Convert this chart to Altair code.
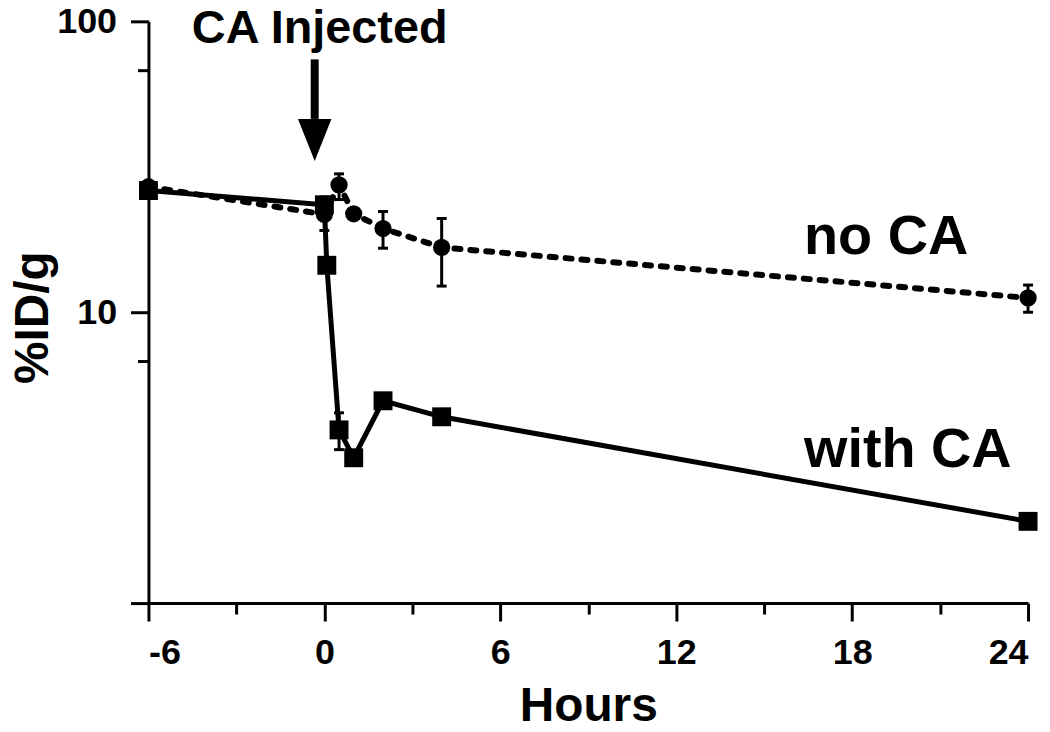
import altair as alt
import pandas as pd

# ---- data ----
# no CA (circles, dashed line)
noca_hours = [-6, 0, 0.5, 1, 2, 4, 24]
noca_vals = [27.0, 21.7, 27.4, 21.8, 19.4, 16.7, 11.2]
noca_lo = [None, 19.1, 24.4, None, 16.6, 12.3, 10.0]
noca_hi = [None, 24.9, 29.9, None, 22.2, 21.0, 12.4]

# with CA (squares, solid line)
withca_hours = [-6, 0, 0.083, 0.5, 1, 2, 4, 24]
withca_vals = [26.2, 23.4, 14.5, 3.94, 3.16, 4.96, 4.37, 1.91]
withca_lo = [None, None, None, 3.37, None, None, None, 1.82]
withca_hi = [None, None, None, 4.51, None, None, None, 2.0]

x_tick_values = [-6, -3, 0, 3, 6, 9, 12, 15, 18, 21, 24]
y_tick_values = [1, 6.8, 10, 68, 100]

# annotations
arrow_x = [-0.33]
arrow_top = [74.0]
arrow_base = [46.2]
arrow_head = [39.1]
label_text = ["no CA", "with CA"]
label_x = [16.36, 16.36]
label_y = [15.9, 2.94]
inj_text = ["CA Injected"]
inj_x = [-0.16]
inj_y = [84.0]

FONT = "Liberation Sans"

rows = []
for h, v, lo, hi in zip(noca_hours, noca_vals, noca_lo, noca_hi):
    rows.append({"series": "no CA", "hours": h, "val": v, "lo": lo, "hi": hi})
for h, v, lo, hi in zip(withca_hours, withca_vals, withca_lo, withca_hi):
    rows.append({"series": "with CA", "hours": h, "val": v, "lo": lo, "hi": hi})
df = pd.DataFrame(rows)
err_df = df.dropna(subset=["lo", "hi"])

xscale = alt.Scale(domain=[-6, 24], nice=False, zero=False)
yscale = alt.Scale(type="log", domain=[1, 100], nice=False)

xaxis = alt.Axis(
    values=x_tick_values,
    labelExpr="datum.value % 6 === 0 ? ('' + datum.value) : ''",
    tickSize={"condition": {"test": "datum.value % 6 === 0", "value": 18}, "value": 11},
    tickWidth=3, domainWidth=3, domainColor="black", tickColor="black",
    labelFont=FONT, labelFontSize=36, labelFontWeight="bold", labelColor="black",
    labelPadding=15, grid=False,
    title="Hours", titleFont=FONT, titleFontSize=48, titleFontWeight="bold",
    titleColor="black", titleY=118, titleBaseline="alphabetic",
)
yaxis = alt.Axis(
    values=y_tick_values,
    labelExpr="(datum.value == 10 || datum.value == 100) ? ('' + datum.value) : ''",
    tickSize={"condition": {"test": "datum.value == 1 || datum.value == 10 || datum.value == 100", "value": 18}, "value": 11},
    tickWidth=3, domainWidth=3, domainColor="black", tickColor="black",
    labelFont=FONT, labelFontSize=36, labelFontWeight="bold", labelColor="black",
    labelPadding=14, grid=False,
    title="%ID/g", titleFont=FONT, titleFontSize=48, titleFontWeight="bold",
    titleColor="black", titleX=-115, titleY=297, titleBaseline="middle",
    titleAlign="center", titleAngle=270,
)

base = alt.Chart(df)

line_noca = base.transform_filter(alt.datum.series == "no CA").mark_line(
    color="black", strokeWidth=6, strokeDash=[6, 10], strokeCap="round"
).encode(
    x=alt.X("hours:Q", scale=xscale, axis=xaxis),
    y=alt.Y("val:Q", scale=yscale, axis=yaxis),
    order="hours:Q",
)
line_withca = base.transform_filter(alt.datum.series == "with CA").mark_line(
    color="black", strokeWidth=5
).encode(
    x=alt.X("hours:Q", scale=xscale),
    y=alt.Y("val:Q", scale=yscale),
    order="hours:Q",
)

err_rule = alt.Chart(err_df).mark_rule(color="black", strokeWidth=3, opacity=1).encode(
    x=alt.X("hours:Q", scale=xscale),
    y=alt.Y("lo:Q", scale=yscale),
    y2="hi:Q",
)
err_cap_lo = alt.Chart(err_df).mark_tick(color="black", orient="horizontal", size=10, thickness=3, opacity=1).encode(
    x=alt.X("hours:Q", scale=xscale),
    y=alt.Y("lo:Q", scale=yscale),
)
err_cap_hi = alt.Chart(err_df).mark_tick(color="black", orient="horizontal", size=10, thickness=3, opacity=1).encode(
    x=alt.X("hours:Q", scale=xscale),
    y=alt.Y("hi:Q", scale=yscale),
)

pts_noca = base.transform_filter(alt.datum.series == "no CA").mark_point(
    shape="circle", filled=True, color="black", opacity=1, size=300
).encode(
    x=alt.X("hours:Q", scale=xscale),
    y=alt.Y("val:Q", scale=yscale),
)
pts_withca = base.transform_filter(alt.datum.series == "with CA").mark_point(
    shape="square", filled=True, color="black", opacity=1, size=361
).encode(
    x=alt.X("hours:Q", scale=xscale),
    y=alt.Y("val:Q", scale=yscale),
)

arrow_df = pd.DataFrame({"x": arrow_x, "top": arrow_top, "base": arrow_base, "head": arrow_head})
arrow_shaft = alt.Chart(arrow_df).mark_rule(color="black", strokeWidth=8).encode(
    x=alt.X("x:Q", scale=xscale),
    y=alt.Y("top:Q", scale=yscale),
    y2="base:Q",
)
arrow_tip = alt.Chart(arrow_df).mark_point(
    shape="M-0.8,-1 L0.8,-1 L0,1 Z", filled=True, color="black", opacity=1, size=1764
).encode(
    x=alt.X("x:Q", scale=xscale),
    y=alt.Y("head:Q", scale=yscale),
)

inj_df = pd.DataFrame({"t": inj_text, "x": inj_x, "y": inj_y})
inj = alt.Chart(inj_df).mark_text(
    font=FONT, fontSize=47, fontWeight="bold", color="black", align="center", baseline="alphabetic"
).encode(
    x=alt.X("x:Q", scale=xscale),
    y=alt.Y("y:Q", scale=yscale),
    text="t:N",
)

lab_df = pd.DataFrame({"t": label_text, "x": label_x, "y": label_y})
labels = alt.Chart(lab_df).mark_text(
    font=FONT, fontSize=56, fontWeight="bold", color="black", align="left", baseline="alphabetic"
).encode(
    x=alt.X("x:Q", scale=xscale),
    y=alt.Y("y:Q", scale=yscale),
    text="t:N",
)

chart = alt.layer(
    line_noca, line_withca, err_rule, err_cap_lo, err_cap_hi,
    pts_noca, pts_withca, arrow_shaft, arrow_tip, inj, labels,
).properties(
    width=883, height=584,
    autosize=alt.AutoSizeParams(type="none"),
    padding={"left": 141, "top": 12, "right": 14, "bottom": 128},
    background="white",
).configure_view(stroke=None)

chart.save("out.html", embed_options={"renderer": "svg", "actions": False})
